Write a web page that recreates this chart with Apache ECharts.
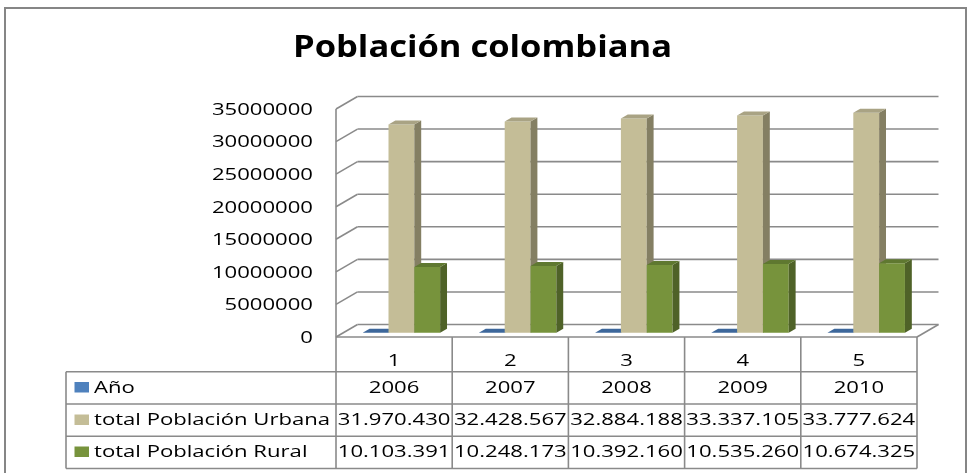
<!DOCTYPE html>
<html><head><meta charset="utf-8">
<script src="https://cdn.jsdelivr.net/npm/echarts@6/dist/echarts.min.js"></script>
<style>html,body{margin:0;padding:0;background:#fff}#c{width:969px;height:473px}</style>
</head><body><div id="c"></div>
<script>
// ---- data ----
const categories = ['1', '2', '3', '4', '5'];
const seriesNames = ['Año', 'total Población Urbana', 'total Población Rural'];
const anio = [2006, 2007, 2008, 2009, 2010];
const urbana = [31970430, 32428567, 32884188, 33337105, 33777624];
const rural = [10103391, 10248173, 10392160, 10535260, 10674325];
const yTicks = [0, 5000000, 10000000, 15000000, 20000000, 25000000, 30000000, 35000000];
const chartTitle = 'Población colombiana';

const seriesValues = [anio, urbana, rural];

// ---- styles ----
const FRONT = ['#4F81BD', '#C4BD97', '#77933C'];
const TOP = ['#3D679B', '#A9A384', '#5F7830'];
const SIDE = ['#385D8A', '#847F63', '#4F6228'];
const DX = 21.5, DY = -12.5;      // wall depth
const BF = 0.34, BB = 0.66;       // bar depth fractions
const LINE = '#8a8a8a';
const FONT = '"Open Sans", "Noto Sans", sans-serif';
const SX = 1.3;
const LEG_X = 66;
const ROW_LINES = [34.7, 67, 99.3, 131.5];
const ROW_TEXT = [51, 83.5, 115.5];

function fmt(n) { return String(n).replace(/\B(?=(\d{3})+(?!\d))/g, '.'); }

const ln = (x1, y1, x2, y2, w) => ({ type: 'line', silent: true, shape: { x1, y1, x2, y2 }, style: { stroke: LINE, lineWidth: w || 1.6 } });
const txt = (x, y, text, align, size) => ({ type: 'text', x, y, scaleX: SX, silent: true,
  style: { text, x: 0, y: 0, align, verticalAlign: 'middle', font: (size || 17) + 'px ' + FONT, fill: '#000' } });

function renderFrame(params, api) {
  const bw = api.size([1, 0])[0];
  const c0 = api.coord([0, 0]);
  const left = c0[0] - bw / 2, right = left + categories.length * bw, y0 = c0[1];
  const ch = [];
  yTicks.forEach(v => {
    const y = api.coord([0, v])[1];
    ch.push(ln(left, y, left + DX, y + DY));
    ch.push(ln(left + DX, y + DY, right + DX, y + DY));
    ch.push(txt(left - 23, y + 1, String(v), 'right'));
  });
  const yTop = api.coord([0, yTicks[yTicks.length - 1]])[1];
  ch.push(ln(left, y0, left, yTop));
  ch.push(ln(right, y0, right + DX, y0 + DY));
  // data table
  ch.push(ln(left, y0, right, y0));
  for (let k = 0; k <= categories.length; k++) {
    ch.push(ln(left + k * bw, y0, left + k * bw, y0 + ROW_LINES[3]));
  }
  ROW_LINES.forEach(o => ch.push(ln(LEG_X, y0 + o, right, y0 + o)));
  ch.push(ln(LEG_X, y0 + ROW_LINES[0], LEG_X, y0 + ROW_LINES[3]));
  categories.forEach((c, i) => {
    const cx = left + (i + 0.5) * bw;
    ch.push(txt(cx, y0 + 24, c, 'center'));
    seriesValues.forEach((arr, s) => {
      ch.push(txt(cx, y0 + ROW_TEXT[s], s === 0 ? String(arr[i]) : fmt(arr[i]), 'center'));
    });
  });
  seriesNames.forEach((n, s) => {
    const cy = y0 + ROW_TEXT[s];
    ch.push({ type: 'rect', silent: true, shape: { x: LEG_X + 8.5, y: cy - 6, width: 14.5, height: 10.5 }, style: { fill: FRONT[s] } });
    ch.push(txt(LEG_X + 28, cy, n, 'left'));
  });
  return { type: 'group', children: ch };
}

function renderBar(s) {
  return function (params, api) {
    const i = api.value(0), v = api.value(1);
    const bw = api.size([1, 0])[0], w = bw / 4.5;
    const top = api.coord([i, v]), base = api.coord([i, 0]);
    const xl = top[0] - 1.5 * w + s * w + DX * BF;
    const xr = xl + w;
    const yb = base[1] + DY * BF, yt = top[1] + DY * BF;
    const ddx = DX * (BB - BF), ddy = DY * (BB - BF);
    return { type: 'group', children: [
      { type: 'polygon', shape: { points: [[xl, yt], [xr, yt], [xr, yb], [xl, yb]] }, style: { fill: FRONT[s] } },
      { type: 'polygon', shape: { points: [[xr, yt], [xr + ddx, yt + ddy], [xr + ddx, yb + ddy], [xr, yb]] }, style: { fill: SIDE[s] } },
      { type: 'polygon', shape: { points: [[xl, yt], [xl + ddx, yt + ddy], [xr + ddx, yt + ddy], [xr, yt]] }, style: { fill: TOP[s] } }
    ] };
  };
}

const chart = echarts.init(document.getElementById('c'), null, { renderer: 'canvas' });
const series = [{
  type: 'custom', name: 'frame', renderItem: renderFrame, data: [[0, 0]], encode: { x: 0, y: 1 }, z: 1, silent: true
}];
seriesValues.forEach((arr, s) => {
  series.push({
    type: 'custom', name: seriesNames[s], renderItem: renderBar(s), z: 2 + s,
    data: arr.map((v, i) => [i, v]), encode: { x: 0, y: 1 }
  });
});

chart.setOption({
  animation: false,
  backgroundColor: '#ffffff',
  grid: { left: 336, right: 52, top: 109, bottom: 136 },
  xAxis: { type: 'category', data: categories, show: false },
  yAxis: { type: 'value', min: 0, max: 35000000, interval: 5000000, show: false },
  graphic: [
    { type: 'rect', silent: true, shape: { x: 5, y: 8, width: 961, height: 480 }, style: { fill: 'none', stroke: '#868686', lineWidth: 2 } },
    { type: 'text', silent: true, x: 293, y: 48, scaleX: 1.15,
      style: { text: chartTitle, x: 0, y: 0, align: 'left', verticalAlign: 'middle', font: 'bold 30px ' + FONT, fill: '#000' } }
  ],
  series
});
</script>
</body></html>
